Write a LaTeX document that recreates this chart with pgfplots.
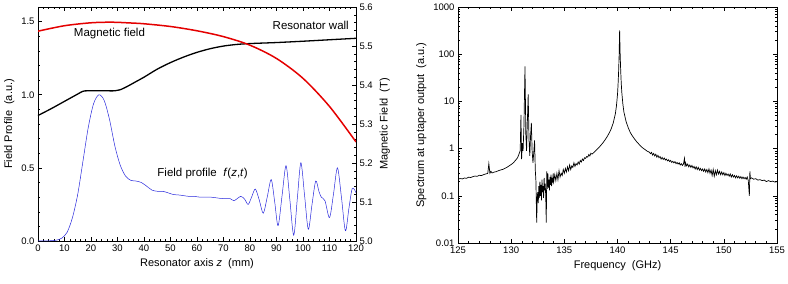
\documentclass[border=0pt]{standalone}
\usepackage{fontspec}
\setmainfont{Liberation Sans}
\usepackage{pgfplots}
\pgfplotsset{compat=1.18}
\definecolor{myred}{RGB}{228,0,0}
\definecolor{myblue}{RGB}{40,40,220}
\pgfplotsset{
  every axis/.append style={
    /pgf/number format/assume math mode=true,
    tick label style={font=\fontsize{9.5}{11}\selectfont},
    label style={font=\fontsize{11}{13}\selectfont},
    scale only axis,
    anchor=south west,
    major tick length=4pt,
    minor tick length=2.2pt,
    tick style={black, line width=0.5pt},
    axis line style={line width=0.6pt},
  }
}
\begin{document}
\begin{tikzpicture}
\path[use as bounding box] (0,0) rectangle (788pt,284pt);
% ---------- left panel, left axis ----------
\begin{axis}[
  at={(38pt,43pt)}, width=318pt, height=234pt,
  xmin=0, xmax=120, ymin=0, ymax=1.6,
  xtick={0,10,...,120}, minor x tick num=4,
  ytick={0,0.5,1,1.5}, minor y tick num=4,
  ytick pos=left,
  yticklabel style={/pgf/number format/fixed,/pgf/number format/fixed zerofill,/pgf/number format/precision=1},
  xlabel={Resonator axis \textit{z}\ \ (mm)},
  ylabel={Field Profile\ \ (a.u.)},
  clip=false,
]
\addplot[myblue, line width=0.5pt, smooth] coordinates {
(0,0) (4,0.001) (7,0.006) (9,0.02) (11,0.06) (13,0.16) (15,0.32) (17,0.55) (19,0.78) (21,0.94) (23,1.0) (25,0.96) (27,0.83) (29,0.65) (31,0.52) (33,0.445) (35,0.415) (37,0.41) (39,0.4) (41,0.375) (43,0.348) (45,0.34) (47,0.34) (49,0.33) (51,0.318) (53,0.315) (55,0.31) (57,0.305) (59,0.305) (61,0.3) (63,0.3) (65,0.3) (67,0.296) (69,0.291) (71,0.29) (72.5,0.29) (74,0.276) (76.5,0.305) (78,0.285) (79.3,0.25) (80.6,0.3) (82,0.355) (83.5,0.28) (85,0.19) (86.5,0.3) (88,0.42) (89.3,0.27) (90.6,0.105) (92.1,0.31) (93.6,0.515) (95,0.29) (96.5,0.04) (97.9,0.3) (99.2,0.535) (100.6,0.31) (102,0.08) (103.4,0.25) (104.8,0.41) (106,0.34) (106.9,0.3) (108.3,0.275) (110,0.16) (111.5,0.32) (113,0.5) (114.5,0.3) (116,0.07) (117.3,0.22) (118.6,0.36) (120,0.33)
};
\addplot[black, line width=1.3pt, smooth] coordinates {
(0,0.858) (5,0.905) (10,0.955) (15,1.005) (17,1.024) (19,1.027) (25,1.027) (29,1.027) (31,1.034) (34,1.06) (37,1.09) (40,1.12) (45,1.175) (50,1.22) (55,1.258) (60,1.29) (65,1.315) (70,1.333) (75,1.344) (80,1.35) (90,1.357) (100,1.366) (110,1.376) (120,1.386)
};
\node[anchor=west, inner sep=0pt, font=\fontsize{11.5}{13}\selectfont] at (axis cs:13.5,1.418) {Magnetic field};
\node[anchor=west, inner sep=0pt, font=\fontsize{11.5}{13}\selectfont] at (axis cs:88.5,1.474) {Resonator wall};
\node[anchor=west, inner sep=0pt, font=\fontsize{11.5}{13}\selectfont] at (axis cs:45,0.462) {Field profile\ \ \textit{f}(\textit{z},\textit{t})};
\end{axis}
% ---------- left panel, right axis ----------
\begin{axis}[
  at={(38pt,43pt)}, width=318pt, height=234pt,
  xmin=0, xmax=120, ymin=5.0, ymax=5.6,
  axis y line*=right, axis x line=none,
  ytick={5.0,5.1,5.2,5.3,5.4,5.5,5.6}, minor y tick num=4,
  yticklabel style={/pgf/number format/fixed,/pgf/number format/fixed zerofill,/pgf/number format/precision=1},
  ylabel={Magnetic Field\ \ (T)},
]
\addplot[myred, line width=1.5pt, smooth] coordinates {
(0,5.538) (10,5.552) (20,5.5595) (28,5.561) (35,5.559) (40,5.557) (50,5.55) (60,5.539) (70,5.524) (80,5.502) (90,5.468) (100,5.417) (110,5.345) (120,5.254)
};
\end{axis}
% ---------- right panel ----------
\begin{axis}[
  at={(458pt,41pt)}, width=319pt, height=236pt,
  xmin=125, xmax=155, ymode=log, ymin=0.01, ymax=1000,
  xtick={125,130,...,155}, minor x tick num=4,
  ytick={0.01,0.1,1,10,100,1000},
  yticklabels={0.01,0.1,1,10,100,1000},
  xlabel={Frequency\ \ (GHz)},
  ylabel={Spectrum at uptaper output\ \ (a.u.)},
]
\addplot[black, line width=0.7pt] coordinates {
(125.0,0.225) (125.2,0.232) (125.4,0.228) (125.6,0.238) (125.8,0.235) (126.0,0.248) (126.2,0.244) (126.4,0.255) (126.6,0.262) (126.8,0.258) (127.0,0.272) (127.2,0.268) (127.4,0.28) (127.6,0.29) (127.8,0.298) (127.9,0.48) (128.0,0.3) (128.1,0.33) (128.2,0.305) (128.4,0.318) (128.6,0.325) (128.8,0.34) (129.0,0.352) (129.2,0.362) (129.4,0.38) (129.6,0.4) (129.8,0.43) (130.0,0.46) (130.2,0.5) (130.4,0.56) (130.6,0.64) (130.75,0.78) (130.85,0.9) (130.92,5.2) (130.98,0.6) (131.05,1.3) (131.12,0.9) (131.2,3) (131.3,55) (131.38,2) (131.45,0.9) (131.5,2.5) (131.6,14) (131.68,1.5) (131.75,0.7) (131.82,1.8) (131.9,3.5) (131.97,0.9) (132.05,0.5) (132.12,0.8) (132.2,1.5) (132.27,0.35) (132.33,0.2) (132.4,0.027) (132.45,0.09) (132.5,0.12) (132.55,0.07) (132.6,0.16) (132.65,0.09) (132.7,0.2) (132.75,0.1) (132.8,0.17) (132.85,0.08) (132.9,0.22) (132.95,0.12) (133.0,0.16) (133.05,0.09) (133.1,0.24) (133.15,0.13) (133.2,0.18) (133.25,0.1) (133.3,0.027) (133.35,0.33) (133.4,0.14) (133.45,0.3) (133.5,0.15) (133.55,0.22) (133.6,0.13) (133.65,0.25) (133.7,0.17) (133.75,0.28) (133.8,0.16) (133.85,0.24) (133.9,0.19) (133.95,0.3) (134.0,0.2) (134.1,0.28) (134.2,0.21) (134.3,0.3) (134.4,0.22) (134.5,0.34) (134.6,0.25) (134.7,0.3) (134.8,0.27) (134.9,0.36) (135.0,0.3) (135.1,0.38) (135.2,0.32) (135.3,0.41) (135.4,0.34) (135.5,0.45) (135.6,0.36) (135.7,0.43) (135.8,0.4) (135.9,0.5) (136.0,0.42) (136.1,0.48) (136.2,0.45) (136.3,0.52) (136.4,0.47) (136.5,0.56) (136.6,0.52) (136.7,0.6) (136.8,0.56) (136.9,0.64) (137.0,0.62) (137.1,0.68) (137.2,0.66) (137.3,0.75) (137.4,0.7) (137.5,0.8) (137.6,0.76) (137.8,0.84) (138.0,0.93) (138.2,1.03) (138.4,1.15) (138.6,1.3) (138.8,1.5) (139.0,1.75) (139.2,2.1) (139.4,2.6) (139.6,3.5) (139.8,5.5) (139.9,8) (140.0,14) (140.05,22) (140.1,40) (140.15,90) (140.2,320) (140.25,100) (140.3,45) (140.35,25) (140.4,16) (140.5,9) (140.6,6) (140.8,3.8) (141.0,2.8) (141.2,2.2) (141.4,1.85) (141.6,1.6) (141.8,1.4) (142.0,1.25) (142.2,1.12) (142.4,1.02) (142.6,0.95) (142.8,0.88) (143.0,0.84) (143.1,0.78) (143.2,0.83) (143.3,0.73) (143.4,0.79) (143.5,0.7) (143.6,0.76) (143.7,0.66) (143.8,0.72) (143.9,0.64) (144.0,0.68) (144.1,0.6) (144.2,0.65) (144.3,0.59) (144.4,0.63) (144.5,0.57) (144.6,0.6) (144.7,0.55) (144.8,0.58) (144.9,0.53) (145.0,0.56) (145.1,0.51) (145.2,0.54) (145.3,0.5) (145.4,0.53) (145.5,0.48) (145.6,0.51) (145.7,0.47) (145.8,0.5) (145.9,0.45) (146.0,0.48) (146.1,0.44) (146.2,0.47) (146.3,0.62) (146.35,0.41) (146.4,0.5) (146.5,0.43) (146.6,0.47) (146.7,0.41) (146.8,0.45) (146.9,0.4) (147.0,0.44) (147.1,0.39) (147.2,0.42) (147.3,0.37) (147.4,0.41) (147.5,0.36) (147.6,0.4) (147.7,0.35) (147.8,0.38) (147.9,0.34) (148.0,0.37) (148.1,0.33) (148.2,0.37) (148.3,0.32) (148.4,0.36) (148.5,0.31) (148.6,0.37) (148.7,0.3) (148.8,0.35) (148.9,0.27) (149.0,0.36) (149.1,0.26) (149.2,0.34) (149.3,0.28) (149.4,0.35) (149.5,0.29) (149.6,0.33) (149.7,0.28) (149.8,0.32) (149.9,0.28) (150.0,0.31) (150.1,0.27) (150.2,0.3) (150.3,0.27) (150.4,0.29) (150.5,0.26) (150.6,0.29) (150.7,0.25) (150.8,0.28) (150.9,0.25) (151.0,0.27) (151.1,0.24) (151.2,0.265) (151.3,0.24) (151.4,0.26) (151.5,0.235) (151.6,0.255) (151.7,0.23) (151.8,0.25) (151.9,0.23) (152.0,0.245) (152.1,0.225) (152.2,0.25) (152.3,0.21) (152.4,0.1) (152.45,0.33) (152.5,0.23) (152.6,0.24) (152.8,0.225) (153.0,0.23) (153.2,0.215) (153.4,0.22) (153.6,0.21) (153.8,0.215) (154.0,0.2) (154.2,0.21) (154.4,0.2) (154.6,0.205) (154.8,0.195) (155.0,0.2)
};
\end{axis}
\end{tikzpicture}
\end{document}
